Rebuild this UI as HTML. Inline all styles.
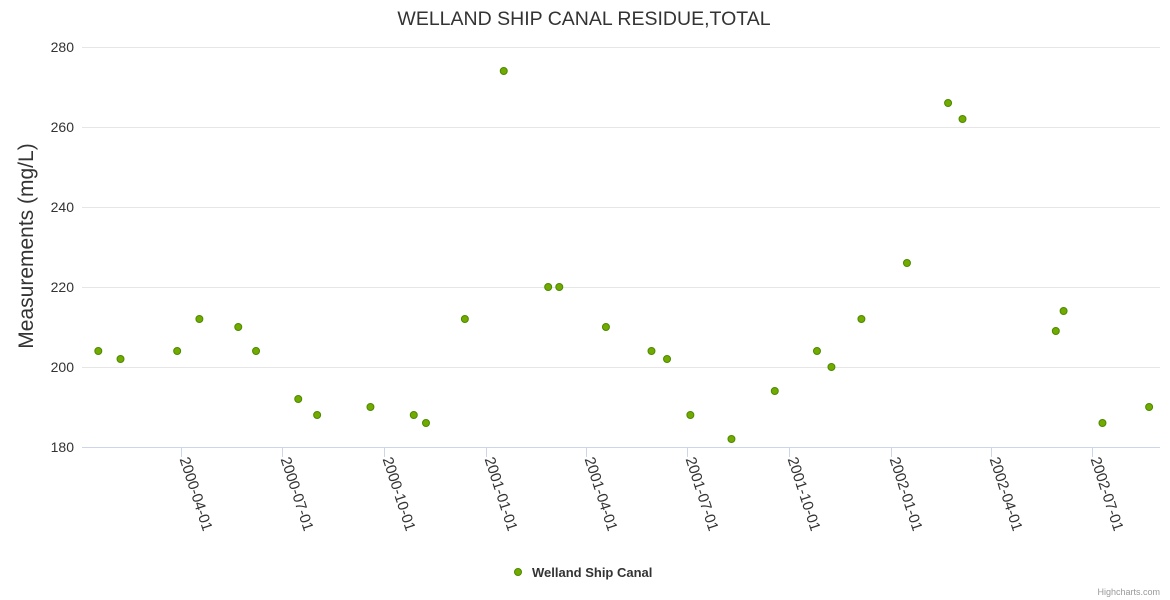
<!DOCTYPE html>
<html><head><meta charset="utf-8"><style>
body{margin:0;background:#fff;font-family:"Liberation Sans",sans-serif;}
svg{display:block}
</style></head><body>
<svg id="chart" width="1170" height="600">
<rect width="1170" height="600" fill="#fff"/>
<text x="584" y="25" text-anchor="middle" font-size="19.5" fill="#333">WELLAND SHIP CANAL RESIDUE,TOTAL</text>
<text transform="translate(33,246) rotate(-90)" text-anchor="middle" font-size="21" fill="#333">Measurements (mg/L)</text>
<g id="grid"></g><g id="xaxis"></g><g id="points"></g>
<g>
<circle cx="518" cy="572" r="3.5" fill="#72aa00" stroke="#4a8a00" stroke-width="1"/>
<text x="532" y="577" font-size="13" font-weight="bold" fill="#333">Welland Ship Canal</text>
</g>
<text x="1160" y="595" text-anchor="end" font-size="9" fill="#999">Highcharts.com</text>
</svg>
<script>
const dates=["2000-01-18","2000-02-07","2000-03-29","2000-04-18","2000-05-23","2000-06-08","2000-07-16","2000-08-02","2000-09-19","2000-10-28","2000-11-08","2000-12-13","2001-01-17","2001-02-26","2001-03-08","2001-04-19","2001-05-30","2001-06-13","2001-07-04","2001-08-10","2001-09-18","2001-10-26","2001-11-08","2001-12-05","2002-01-15","2002-02-21","2002-03-06","2002-05-29","2002-06-05","2002-07-10","2002-08-21"];
const values=[204,202,204,212,210,204,192,188,190,188,186,212,274,220,220,210,204,202,188,182,194,204,200,212,226,266,262,209,214,186,190];
const yTicks=[180,200,220,240,260,280];
const xTicks=["2000-04-01","2000-07-01","2000-10-01","2001-01-01","2001-04-01","2001-07-01","2001-10-01","2002-01-01","2002-04-01","2002-07-01"];
const NS="http://www.w3.org/2000/svg";
const t0=Date.UTC(2000,3,1), day=86400000;
function xs(d){const p=d.split('-').map(Number);return 180.5+(Date.UTC(p[0],p[1]-1,p[2])-t0)/day*1.1108;}
function ys(v){return 447-(v-180)*4;}
function mk(tag,a,parent){const e=document.createElementNS(NS,tag);for(const k in a)e.setAttribute(k,a[k]);parent.appendChild(e);return e;}
const grid=document.getElementById('grid'),xa=document.getElementById('xaxis'),pts=document.getElementById('points');
yTicks.forEach(v=>{
 const y=Math.round(ys(v))+0.5;
 if(v>180){const l=mk('line',{x1:82,x2:1160,y1:y,y2:y,stroke:'#e6e6e6'},grid);
 
 }
 const t=mk('text',{x:74,y:ys(v)+5,'text-anchor':'end','font-size':14,fill:'#333'},grid);
 t.textContent=v;
 
 
});
const ax=mk('line',{x1:82,x2:1160,y1:447.5,y2:447.5,stroke:'#ccd6eb'},xa);


xTicks.forEach(d=>{
 const x=Math.round(xs(d))+0.5;
 const tk=mk('line',{x1:x,x2:x,y1:447,y2:457,stroke:'#ccd6eb'},xa);
 
 
 const t=mk('text',{x:0,y:0,'font-size':15,fill:'#333',transform:`translate(${x-2},${459}) rotate(72)`},xa);
 t.textContent=d;
 
 
});
dates.forEach((d,i)=>{
 const c=mk('circle',{cx:xs(d),cy:ys(values[i]),r:3.5,fill:'#72aa00',stroke:'#4a8a00','stroke-width':1},pts);
 
 
});
</script>
</body></html>
